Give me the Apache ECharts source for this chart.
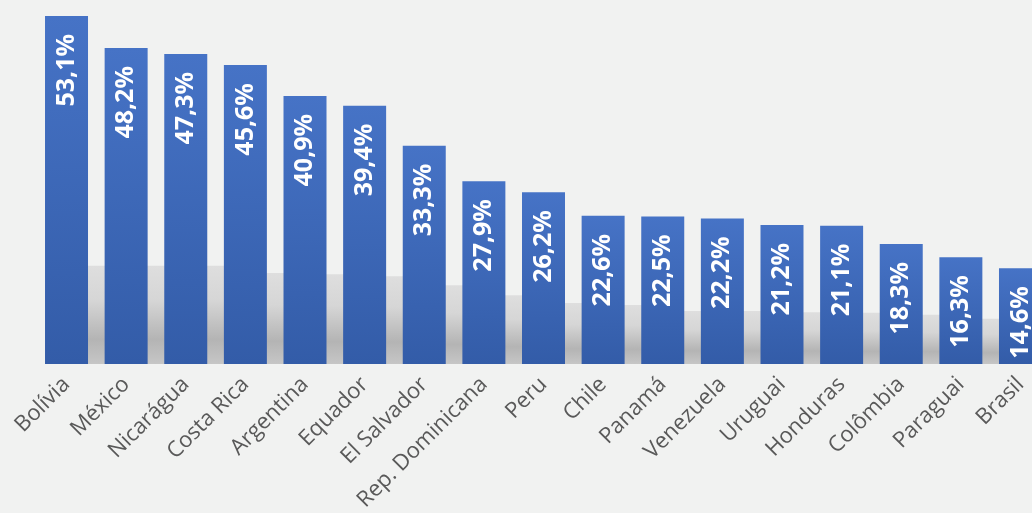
<!DOCTYPE html>
<html>
<head>
<meta charset="utf-8">
<script src="https://cdn.jsdelivr.net/npm/echarts@6/dist/echarts.min.js"></script>
<style>
html,body{margin:0;padding:0;background:#f1f2f1;}
#chart{width:1032px;height:513px;}
</style>
</head>
<body>
<div id="chart"></div>
<script>
const categories = ['Bolívia','México','Nicarágua','Costa Rica','Argentina','Equador','El Salvador','Rep. Dominicana','Peru','Chile','Panamá','Venezuela','Uruguai','Honduras','Colômbia','Paraguai','Brasil'];
const values = [53.1,48.2,47.3,45.6,40.9,39.4,33.3,27.9,26.2,22.6,22.5,22.2,21.2,21.1,18.3,16.3,14.6];
// backdrop shadow heights seen in the gap to the right of each bar
const shadowValues = [15.0,15.0,15.0,13.9,13.7,13.4,12.0,10.5,9.3,9.0,8.1,8.1,7.9,7.8,7.5,6.9,6.5];

const chart = echarts.init(document.getElementById('chart'), null, {renderer:'canvas'});
const shadowData = shadowValues.map((v,i)=>[i,v]);
chart.setOption({
  backgroundColor:'#f1f2f1',
  animation:false,
  grid:{left:36.7, width:1013.6, top:3.5, bottom:149, containLabel:false, outerBoundsMode:'none'},
  xAxis:{
    type:'category', data:categories,
    axisLine:{show:false}, axisTick:{show:false},
    axisLabel:{rotate:45, interval:0, margin:17, color:'#595959', fontSize:22, fontFamily:'Open Sans'}
  },
  yAxis:{type:'value', min:0, max:55, show:false, splitLine:{show:false}},
  series:[
    {
      type:'custom', z:1, silent:true,
      data:shadowData,
      renderItem:function(params, api){
        const top = api.coord([api.value(0), api.value(1)]);
        const base = api.coord([api.value(0), 0]);
        const w = api.size([1,0])[0];
        return {
          type:'rect',
          shape:{x:top[0], y:top[1], width:w, height:base[1]-top[1]},
          style:{
            fill:new echarts.graphic.LinearGradient(0,0,0,1,[
              {offset:0,color:'#dedede'},
              {offset:0.35,color:'#d6d6d6'},
              {offset:0.75,color:'#b4b4b4'},
              {offset:1,color:'#c6c6c6'}
            ])
          }
        };
      }
    },
    {
      type:'bar', z:2, data:values, barWidth:43,
      itemStyle:{
        color:new echarts.graphic.LinearGradient(0,0,0,1,[
          {offset:0,color:'#4673c6'},
          {offset:1,color:'#335ca8'}
        ])
      },
      label:{
        show:true, position:'insideTop', rotate:90, align:'right', verticalAlign:'middle', distance:18,
        color:'#ffffff', fontWeight:'bold', fontSize:25, fontFamily:'Open Sans',
        formatter:function(p){return p.value.toFixed(1).replace('.',',')+'%';}
      }
    }
  ]
});
</script>
</body>
</html>
